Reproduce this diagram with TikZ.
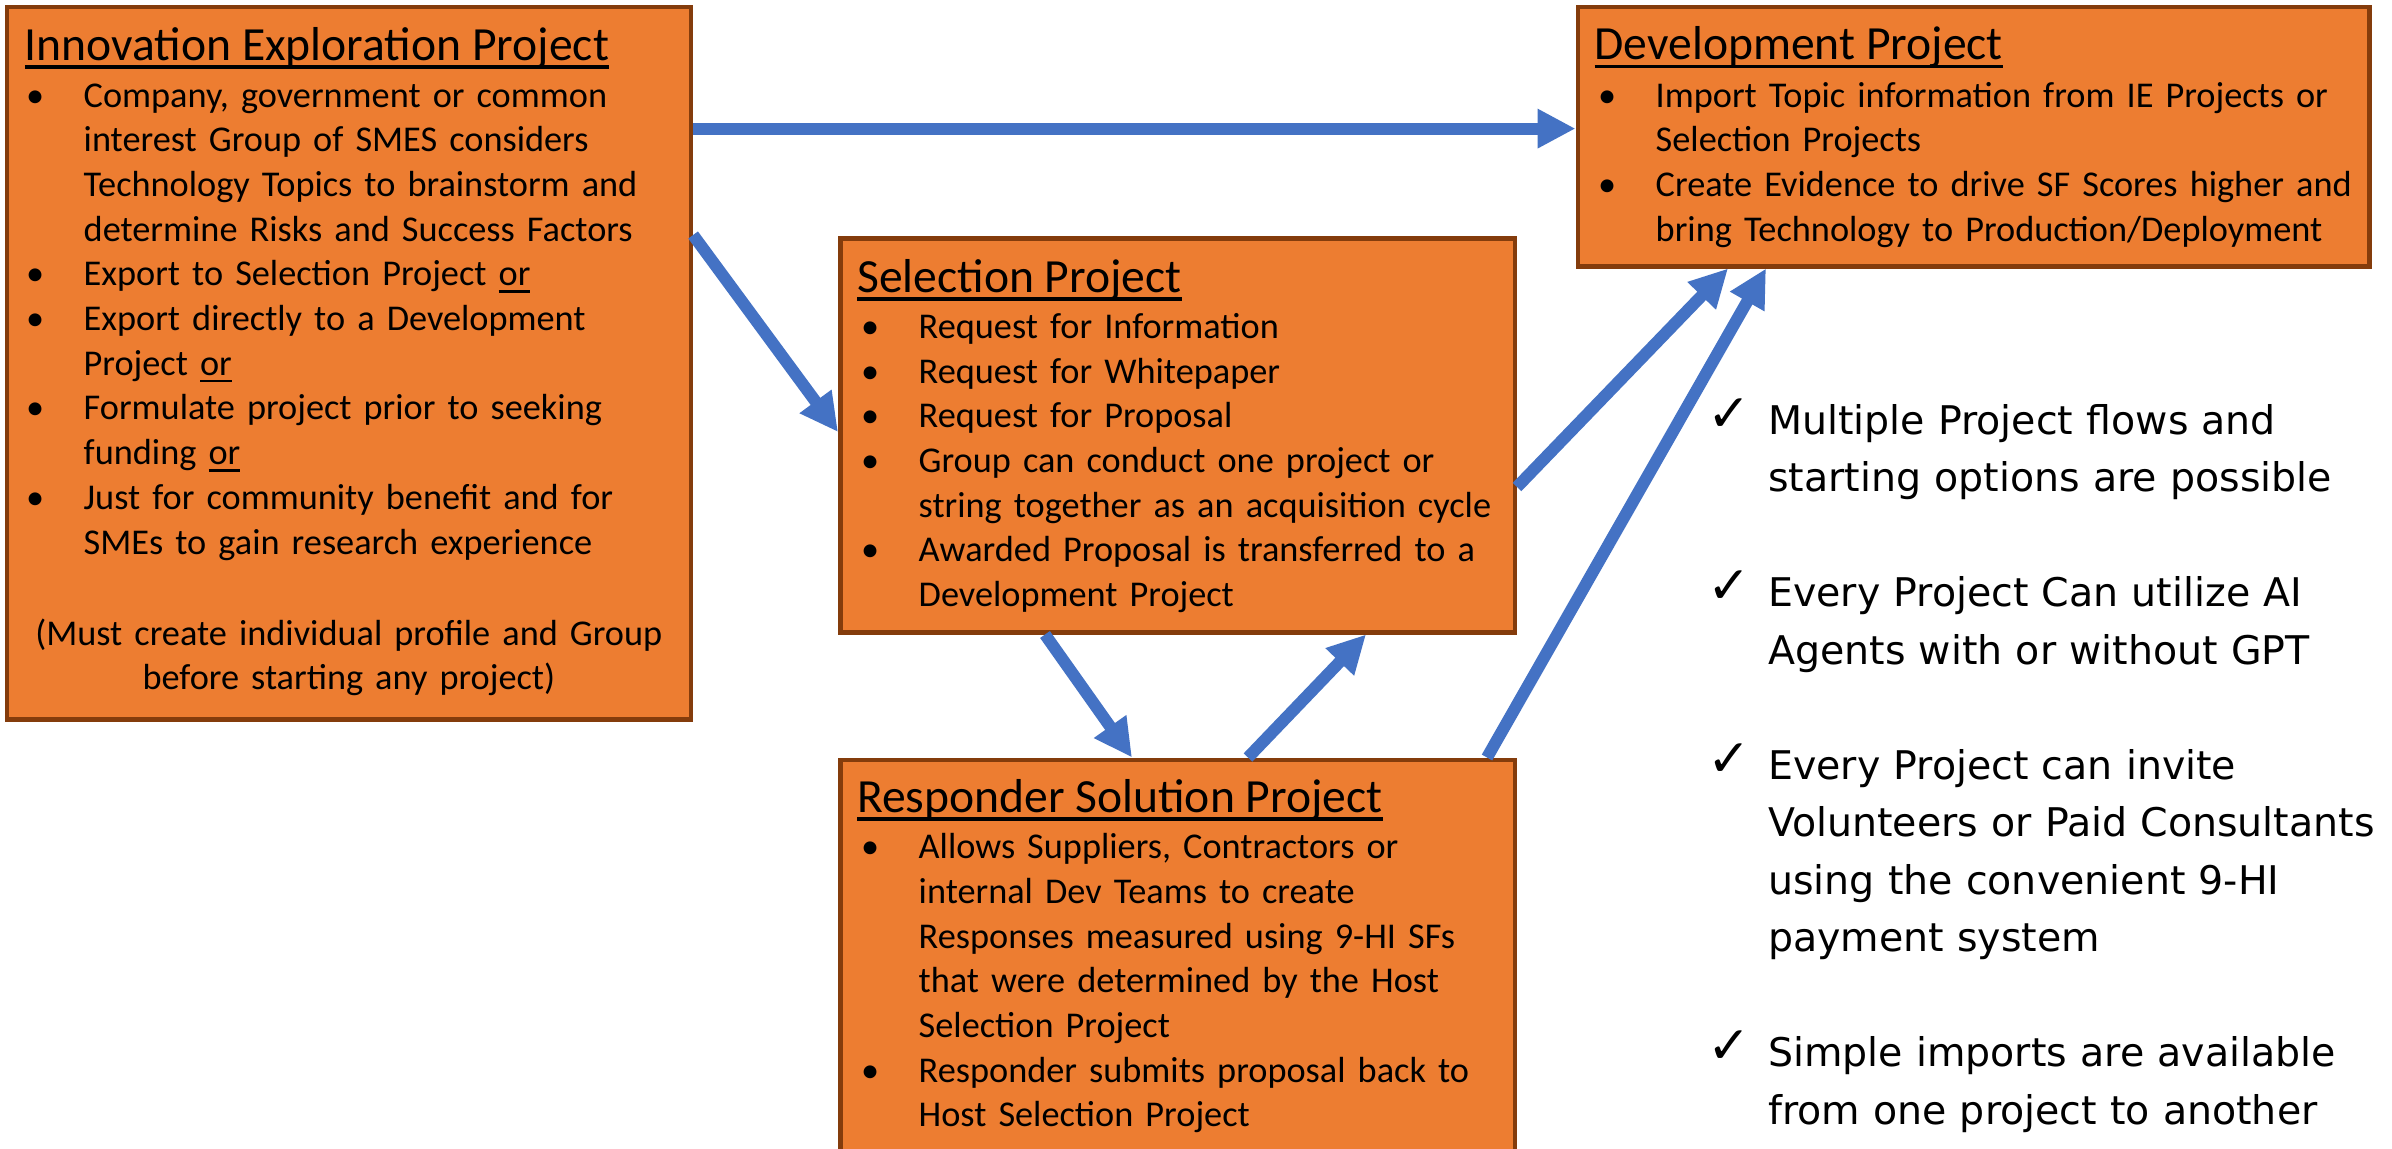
\documentclass[tikz,border=0pt]{standalone}
\usepackage{fontspec}
\setmainfont{Carlito}
\newfontfamily\dvs{DejaVu Sans}
\usetikzlibrary{arrows.meta,calc}
\definecolor{boxfill}{HTML}{ED7D31}
\definecolor{boxline}{HTML}{843C0C}
\definecolor{arrowblue}{HTML}{4472C4}
\newlength\bind \setlength\bind{59.5pt}
\newlength\cind \setlength\cind{61pt}
\newcommand\bitem[1]{\hangindent=\bind\hangafter=1\noindent\makebox[\bind][l]{\hspace{2pt}•}#1\par}
\newcommand\citem[1]{\hangindent=\cind\hangafter=1\noindent\makebox[\cind][l]{\raisebox{3pt}{\fontsize{52}{52}\selectfont ✓}}#1\par}
\newcommand\tul[1]{\setbox0=\hbox{#1}\rlap{\rule[-8.5pt]{\wd0}{3.2pt}}\box0}
\newcommand\bul[1]{\setbox0=\hbox{#1}\rlap{\rule[-7pt]{\wd0}{2.6pt}}\box0}
\tikzset{
  pbox/.style={draw=boxline, fill=boxfill, line width=4.5pt, rectangle, anchor=north west, inner sep=0pt},
  ttl/.style={anchor=base west, inner sep=0pt, font=\fontsize{47.6}{57}\selectfont},
  body/.style={anchor=base west, inner sep=0pt, text width=1000pt, font=\fontsize{36.3}{44.7}\selectfont},
  arr/.style={draw=arrowblue, line width=12pt, -{Triangle[length=38pt,width=37pt]}, arrowblue}
}
\begin{document}
\begin{tikzpicture}[x=1pt,y=-1pt]
\useasboundingbox (0,0) rectangle (2392,1148);
\fill[white] (0,0) rectangle (2392,1148);
\clip (0,0) rectangle (2392,1148);

% boxes
\node[pbox, minimum width=684pt, minimum height=712.5pt] (ie) at (4.6,4.6) {};
\node[pbox, minimum width=791.5pt, minimum height=259pt] (dev) at (1575.5,5) {};
\node[pbox, minimum width=674.5pt, minimum height=394pt] (sel) at (838,236) {};
\node[pbox, minimum width=674.5pt, minimum height=450pt] (resp) at (838,757.5) {};

% Innovation Exploration Project
\node[ttl] (ietitle) at ($(ie.north west)+(20,55.4)$) {\tul{Innovation Exploration Project}};
\node[body] (iebody) at ($(ie.north west)+(19.4,102.4)$) {%
\bitem{Company, government or common\newline interest Group of SMES considers\newline Technology Topics to brainstorm and\newline determine Risks and Success Factors}%
\bitem{Export to Selection Project \bul{or}}%
\bitem{Export directly to a Development\newline Project \bul{or}}%
\bitem{Formulate project prior to seeking\newline funding \bul{or}}%
\bitem{Just for community benefit and for\newline SMEs to gain research experience}};
\node[anchor=base, inner sep=0pt, text width=684pt, align=center, font=\fontsize{36.3}{44.7}\selectfont] (ienote) at ($(ie.north)+(0,640.4)$) {(Must create individual profile and Group\\ before starting any project)};

% Development Project
\node[ttl] (devtitle) at ($(dev.north west)+(19,54.8)$) {\tul{Development Project}};
\node[body] (devbody) at ($(dev.north west)+(20.5,102)$) {%
\bitem{Import Topic information from IE Projects or\newline Selection Projects}%
\bitem{Create Evidence to drive SF Scores higher and\newline bring Technology to Production/Deployment}};

% Selection Project
\node[ttl] (seltitle) at ($(sel.north west)+(19,56)$) {\tul{Selection Project}};
\node[body] (selbody) at ($(sel.north west)+(21,102.4)$) {%
\bitem{Request for Information}%
\bitem{Request for Whitepaper}%
\bitem{Request for Proposal}%
\bitem{Group can conduct one project or\newline string together as an acquisition cycle}%
\bitem{Awarded Proposal is transferred to a\newline Development Project}};

% Responder Solution Project
\node[ttl] (resptitle) at ($(resp.north west)+(19,54.5)$) {\tul{Responder Solution Project}};
\node[body] (respbody) at ($(resp.north west)+(21,101.2)$) {%
\bitem{Allows Suppliers, Contractors or\newline internal Dev Teams to create\newline Responses measured using 9-HI SFs\newline that were determined by the Host\newline Selection Project}%
\bitem{Responder submits proposal back to\newline Host Selection Project}};

% check list
\node[anchor=base west, inner sep=0pt, text width=800pt, font=\dvs\fontsize{39.5}{57.5}\selectfont] (checks) at (1707,434) {%
\citem{Multiple Project flows and\newline starting options are possible}\vskip57.5pt
\citem{Every Project Can utilize AI\newline Agents with or without GPT}\vskip57.5pt
\citem{Every Project can invite\newline Volunteers or Paid Consultants\newline using the convenient 9-HI\newline payment system}\vskip57.5pt
\citem{Simple imports are available\newline from one project to another}};

% arrows
\draw[arr] ($(ie.north east)+(0,124)$) coordinate (a1) -- (a1 -| dev.west);
\draw[arr] ($(ie.north east)+(0,230.4)$) -- ($(sel.north west)+(0,196)$);
\draw[arr] ($(sel.south west)+(207,0)$) -- ($(resp.north west)+(294,0)$);
\draw[arr] ($(resp.north west)+(410,0)$) -- ($(sel.south west)+(528,0)$);
\draw[arr] ($(sel.north east)+(0,251)$) -- ($(dev.south west)+(152.5,0)$);
\draw[arr] ($(resp.north west)+(649,0)$) -- ($(dev.south west)+(190.5,0)$);
\end{tikzpicture}
\end{document}
